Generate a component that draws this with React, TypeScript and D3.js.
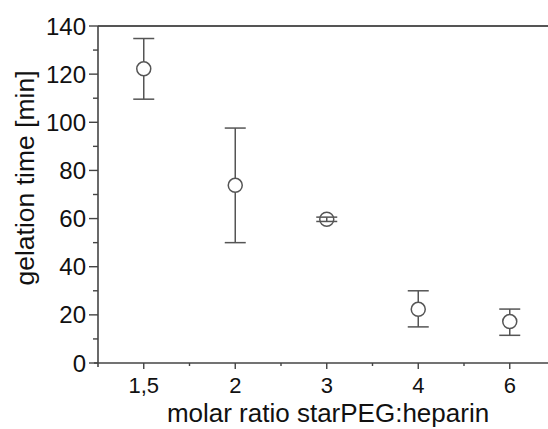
import React, { useRef, useEffect } from 'react';
import * as d3 from 'd3';

const categories = ['1,5', '2', '3', '4', '6'];
const means = [122.2, 73.8, 59.7, 22.3, 17.2];
const upper = [134.8, 97.6, 60.6, 30.0, 22.4];
const lower = [109.6, 50.0, 58.8, 15.0, 11.5];
const yTicks = [0, 20, 40, 60, 80, 100, 120, 140];

const App = () => {
  const svgRef = useRef<SVGSVGElement>(null);

  useEffect(() => {
    const width = 548;
    const height = 429;
    const left = 98;
    const top = 26;
    const bottom = 363;
    const right = 555.5;
    const ink = '#444';
    const font = "'Liberation Sans', Arial, sans-serif";

    const svg = d3.select(svgRef.current)
      .attr('width', width)
      .attr('height', height)
      .style('position', 'absolute')
      .style('left', '0px')
      .style('top', '0px')
      .style('background', '#fff');
    svg.selectAll('*').remove();

    const x = d3.scaleBand<string>()
      .domain(categories)
      .range([left, right]);

    const y = d3.scaleLinear()
      .domain([0, 140])
      .range([bottom, top]);

    const cx = (c: string) => (x(c) as number) + x.bandwidth() / 2;

    // top frame line
    svg.append('line')
      .attr('x1', left).attr('x2', width)
      .attr('y1', top).attr('y2', top)
      .attr('stroke', '#555').attr('stroke-width', 1.8);

    // y axis
    const yAxis = svg.append('g');
    yAxis.append('line')
      .attr('x1', left).attr('x2', left)
      .attr('y1', top).attr('y2', bottom + 4)
      .attr('stroke', ink).attr('stroke-width', 1.6);

    yAxis.selectAll('.major')
      .data(yTicks)
      .join('line')
      .attr('x1', left - 9).attr('x2', left)
      .attr('y1', d => y(d)).attr('y2', d => y(d))
      .attr('stroke', ink).attr('stroke-width', 1.4);

    yAxis.selectAll('.minor')
      .data(yTicks.slice(0, -1).map(d => d + 10))
      .join('line')
      .attr('x1', left - 5).attr('x2', left)
      .attr('y1', d => y(d)).attr('y2', d => y(d))
      .attr('stroke', ink).attr('stroke-width', 1.4);

    yAxis.selectAll('text')
      .data(yTicks)
      .join('text')
      .attr('x', left - 12)
      .attr('y', d => y(d))
      .attr('dy', '0.36em')
      .attr('text-anchor', 'end')
      .attr('font-family', font)
      .attr('font-size', 24)
      .attr('fill', '#111')
      .text(d => d);

    // x axis
    const xAxis = svg.append('g');
    xAxis.append('line')
      .attr('x1', left - 4).attr('x2', width)
      .attr('y1', bottom).attr('y2', bottom)
      .attr('stroke', ink).attr('stroke-width', 1.6);

    xAxis.selectAll('.major')
      .data(categories)
      .join('line')
      .attr('x1', d => cx(d)).attr('x2', d => cx(d))
      .attr('y1', bottom).attr('y2', bottom + 6)
      .attr('stroke', ink).attr('stroke-width', 1.4);

    xAxis.selectAll('.minor')
      .data(categories.slice(1))
      .join('line')
      .attr('x1', d => x(d) as number).attr('x2', d => x(d) as number)
      .attr('y1', bottom).attr('y2', bottom + 3)
      .attr('stroke', ink).attr('stroke-width', 1.4);

    xAxis.selectAll('text')
      .data(categories)
      .join('text')
      .attr('x', d => cx(d))
      .attr('y', 393)
      .attr('text-anchor', 'middle')
      .attr('font-family', font)
      .attr('font-size', 22)
      .attr('fill', '#111')
      .text(d => d);

    // axis titles
    svg.append('text')
      .attr('x', 328)
      .attr('y', 421.5)
      .attr('text-anchor', 'middle')
      .attr('font-family', font)
      .attr('font-size', 26)
      .attr('fill', '#111')
      .text('molar ratio starPEG:heparin');

    svg.append('text')
      .attr('transform', `translate(34,178) rotate(-90)`)
      .attr('text-anchor', 'middle')
      .attr('font-family', font)
      .attr('font-size', 26.5)
      .attr('fill', '#111')
      .text('gelation time [min]');

    // error bars
    const pts = categories.map((c, i) => ({ c, m: means[i], hi: upper[i], lo: lower[i] }));
    const g = svg.append('g').attr('stroke', '#555').attr('stroke-width', 1.5).attr('fill', 'none');

    g.selectAll('.stem')
      .data(pts)
      .join('line')
      .attr('x1', d => cx(d.c)).attr('x2', d => cx(d.c))
      .attr('y1', d => y(d.hi)).attr('y2', d => y(d.lo));

    g.selectAll('.capHi')
      .data(pts)
      .join('line')
      .attr('x1', d => cx(d.c) - 10.5).attr('x2', d => cx(d.c) + 10.5)
      .attr('y1', d => y(d.hi)).attr('y2', d => y(d.hi));

    g.selectAll('.capLo')
      .data(pts)
      .join('line')
      .attr('x1', d => cx(d.c) - 10.5).attr('x2', d => cx(d.c) + 10.5)
      .attr('y1', d => y(d.lo)).attr('y2', d => y(d.lo));

    // markers on top; the short bar at 3 stays visible through its marker
    svg.append('g')
      .selectAll('circle')
      .data(pts)
      .join('circle')
      .attr('cx', d => cx(d.c))
      .attr('cy', d => y(d.m))
      .attr('r', 7)
      .attr('fill', d => (d.hi - d.lo < 5 ? 'none' : '#fff'))
      .attr('stroke', '#555')
      .attr('stroke-width', 1.5);
  }, []);

  return <svg ref={svgRef}></svg>;
};

export default App;
